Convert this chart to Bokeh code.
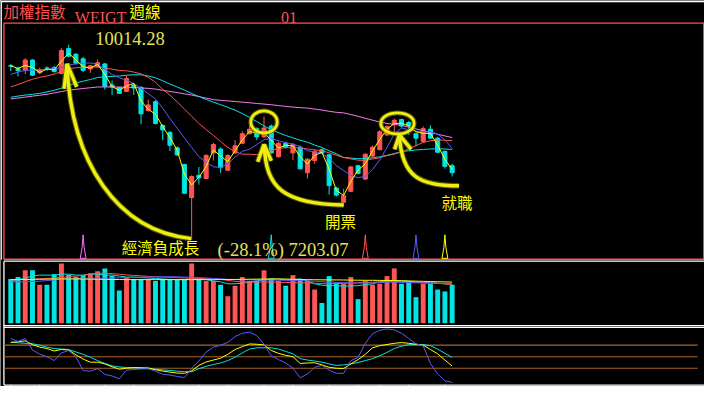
from bokeh.plotting import figure
from bokeh.models import Range1d
from bokeh.core.properties import value
from bokeh.embed import file_html
from bokeh.resources import INLINE

# ---------------- data (weekly TAIEX) ----------------
open_ = [9712, 9668, 9645, 9793, 9609, 9678, 9682, 9599, 9958, 9876,
         9811, 9664, 9700, 9737, 9433, 9396, 9340, 9433, 9396, 9064,
         9194, 8852, 8751, 8530, 8289, 7811, 8133, 8087, 8455, 8511,
         8206, 8455, 8594, 8732, 8806, 8686, 8842, 8400, 8594, 8455,
         8538, 8170, 8345, 8502, 8428, 7949, 7746, 7902, 8271, 8078,
         8410, 8502, 8714, 8862, 8935, 8894, 8732, 8621, 8797, 8668,
         8475, 8271]
high = [9737, 9696, 9820, 9806, 9682, 9700, 9710, 9968, 10014.28, 9894,
        9838, 9723, 9802, 9751, 9498, 9405, 9562, 9451, 9419, 9221,
        9212, 8866, 8769, 8548, 8299, 8133, 8253, 8437, 8603, 8534,
        8437, 8641, 8769, 8852, 8824, 8981, 8866, 8617, 8617, 8603,
        8562, 8382, 8511, 8520, 8444, 7967, 7939, 8271, 8285, 8451,
        8562, 8783, 8852, 8949, 8949, 8917, 8748, 8838, 8852, 8686,
        8493, 8299]
low = [9636, 9557, 9589, 9564, 9589, 9636, 9613, 9585, 9834, 9728,
       9617, 9609, 9689, 9368, 9290, 9305, 9336, 9290, 8870, 9053,
       8866, 8640, 8483, 8410, 7870, 7203.07, 7999, 8078, 8345, 8170,
       8195, 8444, 8583, 8721, 8640, 8672, 8444, 8391, 8520, 8354,
       8216, 8087, 8299, 8437, 7856, 7829, 7691, 7891, 8147, 8064,
       8396, 8493, 8700, 8714, 8824, 8714, 8548, 8603, 8659, 8451,
       8230, 8115]
close = [9705, 9640, 9793, 9575, 9654, 9675, 9627, 9931, 9848, 9747,
         9645, 9710, 9755, 9415, 9405, 9313, 9526, 9391, 9018, 9147,
         8880, 8787, 8566, 8427, 7874, 8115, 8096, 8419, 8576, 8244,
         8419, 8558, 8732, 8797, 8686, 8815, 8455, 8594, 8538, 8576,
         8226, 8364, 8475, 8455, 7985, 7847, 7838, 8253, 8161, 8437,
         8538, 8760, 8834, 8925, 8842, 8852, 8668, 8806, 8668, 8465,
         8262, 8170]
volume = [4600, 4800, 5500, 5500, 4000, 4000, 5100, 6200, 5000, 4800,
          5000, 5200, 5400, 5700, 4900, 3400, 4800, 4600, 4600, 4600,
          4400, 4600, 4600, 4500, 4600, 6200, 4600, 4400, 4400, 4000,
          2800, 3900, 4800, 4400, 4400, 5500, 4600, 4400, 3900, 5000,
          4600, 4400, 3500, 2100, 4900, 4200, 4100, 4800, 2500, 4400,
          4000, 4100, 4900, 5700, 4100, 4400, 2700, 4100, 4100, 3500,
          3300, 4000]

ma_yellow = [9710, 9672, 9716, 9684, 9614, 9664, 9651, 9779, 9890, 9797,
             9696, 9677, 9732, 9585, 9410, 9359, 9419, 9458, 9204, 9082,
             9013, 8833, 8676, 8496, 8150, 7994, 8105, 8257, 8497, 8410,
             8331, 8488, 8645, 8764, 8741, 8750, 8635, 8524, 8566, 8557,
             8401, 8295, 8419, 8465, 8220, 7916, 7842, 8045, 8207, 8299,
             8487, 8649, 8797, 8879, 8883, 8847, 8760, 8737, 8737, 8566,
             8363, 8216]
ma_blue = [9585, 9620, 9645, 9650, 9654, 9661, 9668, 9682, 9723, 9737,
           9747, 9751, 9730, 9661, 9585, 9537, 9502, 9454, 9385, 9309,
           9232, 9101, 8949, 8811, 8672, 8534, 8403, 8320, 8257, 8244,
           8299, 8396, 8479, 8506, 8576, 8645, 8665, 8631, 8603, 8582,
           8548, 8486, 8472, 8444, 8382, 8271, 8202, 8133, 8098, 8119,
           8216, 8354, 8534, 8728, 8815, 8790, 8769, 8760, 8760, 8728,
           8645, 8520]
ma_red = [9405, 9440, 9481, 9516, 9544, 9564, 9592, 9627, 9665, 9682,
          9689, 9692, 9692, 9678, 9661, 9643, 9638, 9620, 9592, 9544,
          9474, 9371, 9288, 9191, 9087, 8983, 8880, 8790, 8707, 8620,
          8534, 8472, 8437, 8437, 8430, 8458, 8490, 8520, 8530, 8530,
          8527, 8513, 8499, 8486, 8458, 8423, 8389, 8368, 8351, 8347,
          8368, 8386, 8417, 8437, 8472, 8513, 8562, 8606, 8631, 8641,
          8638, 8631]
ma_cyan = [9257, 9274, 9288, 9300, 9313, 9334, 9357, 9389, 9427, 9461,
           9488, 9513, 9541, 9551, 9557, 9563, 9574, 9581, 9581, 9564,
           9537, 9495, 9447, 9405, 9360, 9311, 9267, 9226, 9187, 9150,
           9112, 9071, 9021, 8968, 8907, 8845, 8789, 8747, 8707, 8672,
           8638, 8610, 8569, 8534, 8486, 8444, 8390, 8382, 8372, 8374,
           8385, 8399, 8421, 8447, 8475, 8486, 8498, 8506, 8512, 8515,
           8512, 8506]
ma_magenta = [9232, 9246, 9259, 9273, 9286, 9300, 9320, 9339, 9358, 9371,
              9383, 9394, 9405, 9405, 9405, 9405, 9401, 9397, 9391, 9385,
              9375, 9357, 9340, 9324, 9306, 9289, 9267, 9245, 9223, 9213,
              9205, 9195, 9187, 9178, 9167, 9159, 9149, 9137, 9126, 9115,
              9107, 9101, 9087, 9073, 9055, 9040, 9032, 9008, 8983, 8954,
              8927, 8900, 8880, 8866, 8852, 8827, 8801, 8775, 8750, 8724,
              8700, 8677]

vol_ma_cyan = [4300, 4500, 4700, 4900, 5000, 5000, 5000, 5100, 5100, 5000,
               5000, 5100, 5100, 5000, 5000, 4900, 4800, 4800, 4750, 4700,
               4650, 4600, 4550, 4530, 4530, 4550, 4550, 4530, 4400, 4300,
               4100, 4100, 4150, 4300, 4400, 4500, 4600, 4600, 4500, 4500,
               4600, 4400, 4100, 3950, 3900, 3900, 3850, 3870, 3900, 4000,
               4100, 4300, 4400, 4450, 4400, 4350, 4250, 4200, 4200, 4150,
               4100, 4070]
vol_ma_red = [4500, 4520, 4550, 4570, 4600, 4650, 4700, 4770, 4830, 4900,
              4980, 5100, 5200, 5200, 5150, 5100, 5020, 4970, 4920, 4870,
              4830, 4800, 4770, 4730, 4700, 4670, 4650, 4630, 4600, 4550,
              4450, 4350, 4300, 4270, 4270, 4270, 4270, 4250, 4230, 4220,
              4200, 4180, 4150, 4120, 4100, 4120, 4150, 4180, 4200, 4230,
              4260, 4300, 4320, 4330, 4300, 4280, 4250, 4230, 4200, 4150,
              4080, 4000]
vol_ma_blue = [4270, 4300, 4320, 4340, 4370, 4430, 4500, 4580, 4620, 4650,
               4670, 4670, 4670, 4670, 4700, 4720, 4740, 4760, 4780, 4800,
               4810, 4820, 4830, 4820, 4800, 4780, 4750, 4700, 4660, 4610,
               4560, 4530, 4520, 4510, 4500, 4490, 4480, 4470, 4460, 4450,
               4430, 4400, 4360, 4320, 4280, 4250, 4220, 4200, 4180, 4170,
               4190, 4220, 4250, 4270, 4250, 4230, 4200, 4180, 4160, 4140,
               4120, 4100]
vol_ma_yellow = [4530, 4540, 4550, 4560, 4570, 4580, 4590, 4600, 4600, 4600,
                 4590, 4580, 4570, 4560, 4550, 4540, 4530, 4530, 4530, 4530,
                 4530, 4530, 4530, 4530, 4530, 4530, 4530, 4530, 4530, 4540,
                 4550, 4550, 4560, 4570, 4580, 4590, 4600, 4600, 4590, 4570,
                 4550, 4530, 4520, 4510, 4500, 4500, 4490, 4480, 4470, 4460,
                 4460, 4450, 4440, 4430, 4410, 4390, 4370, 4350, 4330, 4310,
                 4290, 4270]

k_line = [87.5, 88.8, 91.3, 81.3, 75, 71.3, 65, 68.8, 67.5, 55,
          43.8, 35.8, 35.8, 31.3, 23.8, 17.5, 20, 21.8, 21.3, 20.8,
          16.3, 12.5, 10, 7.5, 6.8, 13.3, 27.5, 36.3, 41.3, 46.3,
          56.3, 68.8, 76.3, 83.3, 82.5, 80.8, 66.3, 58.8, 53.8, 50,
          32.5, 33.8, 34.3, 28.8, 22.5, 20, 19.3, 31.3, 42.5, 56.3,
          73.3, 78.8, 81.8, 85, 86.8, 85, 82.5, 80, 68.8, 57.5,
          41.3, 25.8]
d_line = [87.5, 86.3, 85, 83.8, 80, 75, 71.3, 70, 68.8, 62.5,
          56.3, 48.8, 40, 32.5, 26.3, 23.3, 22, 21.3, 20, 18.8,
          17.5, 15.8, 14.3, 12.5, 11.3, 10.8, 18.8, 25, 30, 33.8,
          40, 48.8, 60, 70, 73.3, 73.3, 73.3, 70, 63.8, 57.5,
          45, 41.3, 38.8, 35.8, 31.3, 27.5, 28.8, 31.3, 35, 40,
          45, 52.5, 61.3, 71.3, 77.5, 81.3, 81.8, 81.8, 78.8, 70,
          58.8, 48.3]
j_line = [97.5, 90, 97.5, 67.5, 56.8, 50, 40, 60, 66, 50,
          13.8, 12.5, 18.8, 4.2, 0, -7.5, 15, 16.8, 18, 18.8,
          12.5, 3.8, 2.5, -1.3, -4.3, 20, 38.8, 62.5, 75, 80,
          87.5, 102.5, 111, 114, 105, 82.5, 52.5, 42.5, 33.8, 20,
          -5, 5, 22.5, 27.5, 15, 6.8, 6.8, 40, 48.3, 85,
          110, 118.8, 122.5, 120, 111.3, 97.5, 83.8, 78.3, 32.5, 5,
          -12.5, -16.8]
kdj_levels = [80, 50, 20]

event_idx = [10, 36, 49, 56, 60]
event_colors = ["#ff70ff", "#00e4e4", "#ff5555", "#5a5aff", "#ffff00"]
month_tick_idx = [0, 4, 9, 13, 17, 22, 26, 30, 35, 39, 44, 48, 51, 55, 60]

title_name = "加權指數"
title_code = "WEIGT"
title_period = "週線"
title_no = "01"
note_texts = ["經濟負成長", "開票", "就職"]

# ---------------- layout constants (reference pixel space 720 x 402) ----------------
REF_W, REF_H = 720, 402
W, H = 704, 386
X0, XS = 10.5, 7.4              # ref px of bar 0, ref px per bar
P_TOP, P_PX = 10650.4, 13.828   # price at ref y=0, price per ref px
V_BASE, V_PX = 336, 100.0       # volume zero line (ref y), volume per px
K_BASE, K_PX = 391, 2.5         # kdj zero line (ref y), kdj per px

RED = "#ff5555"
CYAN = "#00e4e4"
YEL = "#ffff00"
BLUE = "#5a5aff"
MAG = "#f07cf0"
ANN = "#eeee10"

p = figure(width=W, height=H, output_backend="svg", toolbar_location=None, tools="",
           x_range=Range1d(-X0 / XS, (REF_W - X0) / XS),
           y_range=Range1d(P_TOP - P_PX * REF_H, P_TOP),
           x_axis_location=None, y_axis_location=None, min_border=0,
           background_fill_color="black", border_fill_color="black",
           outline_line_color=None)
p.xgrid.grid_line_color = None
p.ygrid.grid_line_color = None
p.extra_x_ranges = {"px": Range1d(0, REF_W)}
p.extra_y_ranges = {"px": Range1d(REF_H, 0),
                    "vol": Range1d(V_PX * (V_BASE - REF_H), V_PX * V_BASE),
                    "kdj": Range1d(K_PX * (K_BASE - REF_H), K_PX * K_BASE)}

n = len(close)
xs = list(range(n))
colors = [RED if c >= o else CYAN for o, c in zip(open_, close)]

# ---------------- frames ----------------
p.segment(x0=[0], y0=[1.2], x1=[720], y1=[1.2], line_color="white", line_width=1.3,
          x_range_name="px", y_range_name="px")
p.segment(x0=[1.0], y0=[1.2], x1=[1.0], y1=[270], line_color="#ffdddd", line_width=1,
          x_range_name="px", y_range_name="px")
p.segment(x0=[3.5, 3.5, 719.2, 3.5], y0=[23.5, 23.5, 23.5, 269.5],
          x1=[719.5, 3.5, 719.2, 719.5], y1=[23.5, 269.5, 269.5, 269.5],
          line_color="#ff5050", line_width=1.3, x_range_name="px", y_range_name="px")
p.segment(x0=[3.5, 3.5, 3.5, 3.5, 3.5], y0=[271.5, 338.5, 340.5, 400.5, 271.5],
          x1=[720, 720, 720, 720, 3.5], y1=[271.5, 338.5, 340.5, 400.5, 400.5],
          line_color="white", line_width=1.3, x_range_name="px", y_range_name="px")

# ---------------- candles ----------------
p.segment(x0=xs, y0=high, x1=xs, y1=low, line_color=colors, line_width=1)
p.vbar(x=xs, width=0.56, top=[max(o, c) for o, c in zip(open_, close)],
       bottom=[min(o, c) for o, c in zip(open_, close)],
       fill_color=colors, line_color=colors, line_width=1)

# moving averages
p.line(xs, ma_magenta, line_color=MAG, line_width=1)
p.line(xs, ma_cyan, line_color=CYAN, line_width=1)
p.line(xs, ma_red, line_color="#ff5050", line_width=1)
p.line(xs, ma_blue, line_color=BLUE, line_width=1)
p.line(xs, ma_yellow, line_color=YEL, line_width=1)

# event markers at the foot of the price panel
shape_dx = [-1, 0, 1, 3, -3]
shape_y = [257, 244, 257, 268.5, 268.5]
p.patches(xs=[[e + d / XS for d in shape_dx] for e in event_idx],
          ys=[shape_y for _ in event_idx], fill_color=None,
          line_color=event_colors, line_width=1, y_range_name="px")

# ---------------- volume ----------------
p.vbar(x=xs, width=0.68, top=volume, bottom=0, fill_color=colors, line_color=None,
       y_range_name="vol")
p.line(xs, vol_ma_cyan, line_color=CYAN, line_width=1, y_range_name="vol")
p.line(xs, vol_ma_red, line_color="#ff5050", line_width=1, y_range_name="vol")
p.line(xs, vol_ma_blue, line_color=BLUE, line_width=1, y_range_name="vol")
p.line(xs, vol_ma_yellow, line_color=YEL, line_width=1, y_range_name="vol")

# ---------------- KDJ ----------------
p.segment(x0=[3.5] * len(kdj_levels), y0=kdj_levels, x1=[713] * len(kdj_levels), y1=kdj_levels,
          line_color="#a8642c", line_width=1.2, x_range_name="px", y_range_name="kdj")
p.line(xs, d_line, line_color=CYAN, line_width=1, y_range_name="kdj")
p.line(xs, k_line, line_color=YEL, line_width=1, y_range_name="kdj")
p.line(xs, j_line, line_color=BLUE, line_width=1, y_range_name="kdj")

# month ticks on the bottom frame
p.segment(x0=month_tick_idx, y0=[400.5] * len(month_tick_idx), x1=month_tick_idx,
          y1=[402.5] * len(month_tick_idx), line_color="white", line_width=1,
          y_range_name="px")

# ---------------- hand-drawn yellow annotations ----------------
arrow_curves = dict(x0=[68, 270, 408], y0=[66, 150, 140],
                    cx0=[72, 270, 410], cy0=[170, 195, 185],
                    cx1=[120, 290, 430], cy1=[240, 212, 193],
                    x1=[195, 351, 469], y1=[248, 213, 193])
for lw, colr, alpha in [(5.5, "#7a7a00", 0.7), (3.4, ANN, 1.0)]:
    p.bezier(line_color=colr, line_width=lw, line_alpha=alpha,
             x_range_name="px", y_range_name="px", **arrow_curves)
    p.multi_line(xs=[[65, 68, 78], [263, 269.5, 277], [403, 408, 420]],
                 ys=[[92, 66, 90], [168, 150, 167], [155, 140, 155]],
                 line_color=colr, line_width=lw, line_alpha=alpha,
                 x_range_name="px", y_range_name="px")
    p.ellipse(x=[269.5, 406], y=[126.5, 128], width=[27, 34], height=[23, 22],
              fill_color=None, line_color=colr, line_width=lw - 0.6, line_alpha=alpha,
              x_range_name="px", y_range_name="px")

# ---------------- texts ----------------
CJK = value("Noto Sans CJK TC")
SERIF = value("Liberation Serif")

p.text(x=[3], y=[11], text=[title_name], text_font=CJK, text_font_size=value("15.5px"),
       text_color="#ff5050", text_baseline="middle", x_range_name="px", y_range_name="px")
p.text(x=[76], y=[17.5], text=[title_code], text_font=SERIF, text_font_size=value("16px"),
       text_color="#ff5050", text_baseline="alphabetic", x_range_name="px", y_range_name="px")
p.text(x=[132], y=[11], text=[title_period], text_font=CJK, text_font_size=value("15.5px"),
       text_color=YEL, text_baseline="middle", x_range_name="px", y_range_name="px")
p.text(x=[287], y=[17.5], text=[title_no], text_font=SERIF, text_font_size=value("16px"),
       text_color="#ff5050", text_baseline="alphabetic", x_range_name="px", y_range_name="px")

hi = max(high)
lo = min(low)
pct = (lo - hi) / hi * 100
p.text(x=[97], y=[40], text=[f"{hi:.2f}"], text_font=SERIF, text_font_size=value("18.5px"),
       text_color="#e2e25a", text_baseline="alphabetic", x_range_name="px", y_range_name="px")
p.text(x=[222], y=[260], text=[f"({pct:.1f}%) {lo:.2f}"], text_font=SERIF,
       text_font_size=value("18.5px"), text_color="#e2e25a", text_baseline="alphabetic",
       x_range_name="px", y_range_name="px")

p.text(x=[124, 332, 451], y=[257, 230, 209.5], text=note_texts, text_font=CJK,
       text_font_size=value("15.5px"), text_color=YEL, text_baseline="middle",
       x_range_name="px", y_range_name="px")

open("out.html", "w").write(file_html(p, INLINE))
